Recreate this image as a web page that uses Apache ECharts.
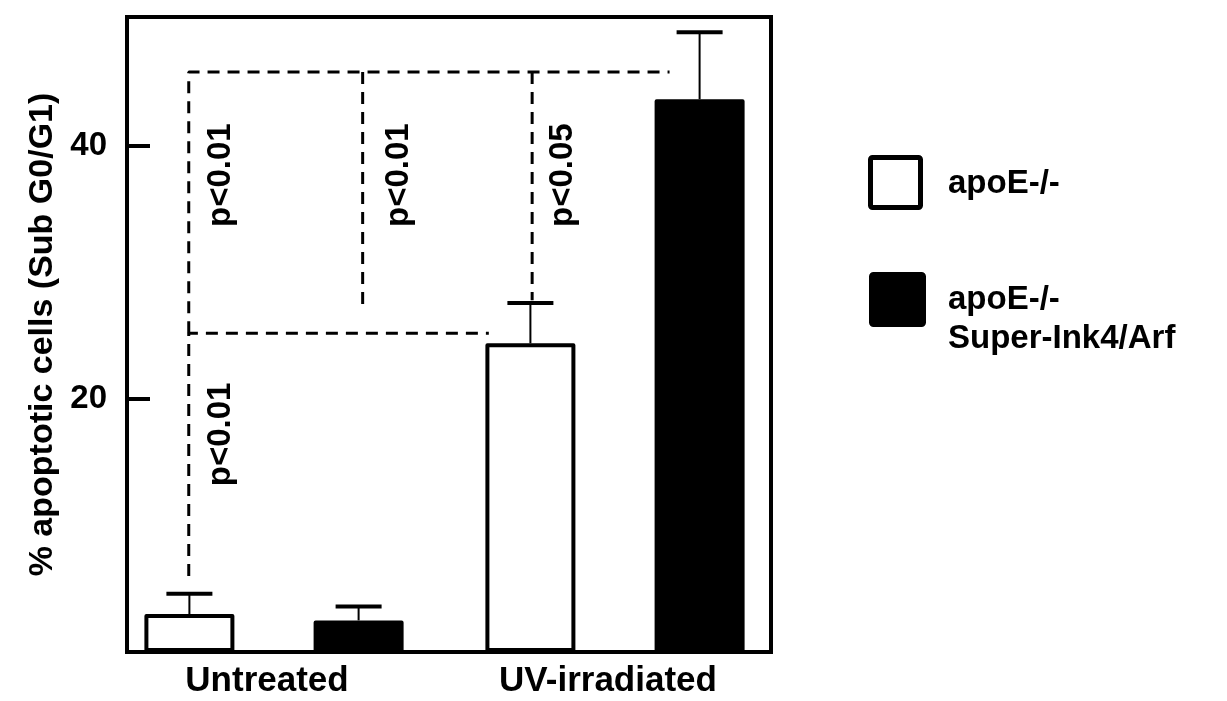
<!DOCTYPE html>
<html>
<head>
<meta charset="utf-8">
<script src="https://cdn.jsdelivr.net/npm/echarts@6/dist/echarts.min.js"></script>
<style>
  html, body { margin: 0; padding: 0; background: #fff; }
  #chart { width: 1227px; height: 701px; }
</style>
</head>
<body>
<div id="chart"></div>
<script>
// ---- data ----
const categories = ['Untreated', 'UV-irradiated'];
const seriesNames = ['apoE-/-', 'apoE-/-\nSuper-Ink4/Arf'];
const apoeMean = [3.0, 24.4];
const apoeSD = [1.6, 3.2];
const superMean = [2.5, 43.7];
const superSD = [1.1, 5.3];
const yTicks = [20, 40];
const yMax = 50.2;

// significance brackets: x in category units (category i centred on i), y in %
const bracketLower = [[-0.25, 6.0], [-0.25, 25.2], [0.63, 25.2]];
const bracketUpper = [[-0.25, 25.2], [-0.25, 45.85], [1.16, 45.85]];
const bracketMid = [[0.26, 45.85], [0.26, 27.4]];
const bracketRight = [[0.757, 45.85], [0.757, 27.8]];
const pLabelText = ['p<0.01', 'p<0.01', 'p<0.05', 'p<0.01'];
const pLabelX = [-0.155, 0.367, 0.848, -0.155];
const pLabelY = [37.7, 37.7, 37.7, 17.2];

// ---- style / layout constants ----
const FONT = "'Liberation Sans', Arial, Helvetica, sans-serif";
const FILLS = ['#fff', '#000'];
const BAR_W = 90;
const BAR_GAP = 0.88;
const BAR_OFFSET = BAR_W * (1 + BAR_GAP) / 2;
const CAP_HALF = 23;

const chart = echarts.init(document.getElementById('chart'), null, { renderer: 'canvas' });

function errorBars(means, sds, sign) {
  return {
    type: 'custom',
    xAxisIndex: 1,
    yAxisIndex: 1,
    z: 1,
    silent: true,
    data: means.map((m, i) => [i, m, m + sds[i]]),
    renderItem(params, api) {
      const i = api.value(0);
      const base = api.coord([i, api.value(1)]);
      const top = api.coord([i, api.value(2)]);
      const x = base[0] + sign * BAR_OFFSET;
      return {
        type: 'group',
        children: [
          { type: 'line', shape: { x1: x, y1: base[1], x2: x, y2: top[1] },
            style: { stroke: '#000', lineWidth: 2 } },
          { type: 'line', shape: { x1: x - CAP_HALF, y1: top[1], x2: x + CAP_HALF, y2: top[1] },
            style: { stroke: '#000', lineWidth: 4 } }
        ]
      };
    }
  };
}

function bracket(points) {
  return {
    type: 'line',
    xAxisIndex: 2,
    yAxisIndex: 1,
    data: points,
    symbol: 'none',
    silent: true,
    z: 3,
    lineStyle: { color: '#000', width: 3, type: [12, 8] }
  };
}

// key boxes and labels at the right of the plot
function keyItems() {
  const font = 'bold 33px ' + FONT;
  return [
    { type: 'rect', shape: { x: 870.5, y: 157.5, width: 50, height: 50, r: 2 },
      style: { fill: FILLS[0], stroke: '#000', lineWidth: 5 } },
    { type: 'text', x: 948, y: 183.5,
      style: { text: seriesNames[0], font: font, fill: '#000', verticalAlign: 'middle' } },
    { type: 'rect', shape: { x: 871.5, y: 274.5, width: 52, height: 50, r: 2 },
      style: { fill: FILLS[1], stroke: '#000', lineWidth: 5 } },
    { type: 'text', x: 948, y: 319,
      style: { text: seriesNames[1], font: font, lineHeight: 39, fill: '#000', verticalAlign: 'middle' } }
  ];
}

const option = {
  animation: false,
  backgroundColor: '#fff',
  grid: [
    // frame + y axis
    { left: 127, right: 456, top: 17, bottom: 49, show: true,
      borderColor: '#000', borderWidth: 4, backgroundColor: 'transparent' },
    // bar layout grid
    { left: 103.5, right: 441.5, top: 17, bottom: 49 }
  ],
  xAxis: [
    { gridIndex: 0, type: 'value', min: 0, max: 1,
      axisLine: { show: true, lineStyle: { color: '#000', width: 4 } },
      axisTick: { show: false }, axisLabel: { show: false }, splitLine: { show: false } },
    { gridIndex: 1, type: 'category', data: categories,
      axisLine: { show: false }, axisTick: { show: false }, splitLine: { show: false },
      axisLabel: { color: '#000', fontFamily: FONT, fontWeight: 'bold', fontSize: 35, margin: 12,
                   padding: [0, 14, 0, 0] } },
    { gridIndex: 1, type: 'value', min: -0.5, max: 1.5, show: false }
  ],
  yAxis: [
    { gridIndex: 0, type: 'value', min: 0, max: yMax,
      axisLine: { show: true, lineStyle: { color: '#000', width: 4 } },
      axisTick: { show: true, inside: true, length: 23, customValues: yTicks,
                  lineStyle: { color: '#000', width: 4 } },
      axisLabel: { customValues: yTicks, color: '#000', fontFamily: FONT, fontWeight: 'bold',
                   fontSize: 33, margin: 20 },
      splitLine: { show: false },
      name: '% apoptotic cells (Sub G0/G1)',
      nameLocation: 'middle',
      nameGap: 66,
      nameTextStyle: { color: '#000', fontFamily: FONT, fontWeight: 'bold', fontSize: 34 } },
    { gridIndex: 1, type: 'value', min: 0, max: yMax, show: false }
  ],
  graphic: keyItems(),
  series: [
    errorBars(apoeMean, apoeSD, -1),
    errorBars(superMean, superSD, 1),
    {
      name: seriesNames[0], type: 'bar', xAxisIndex: 1, yAxisIndex: 1,
      data: apoeMean, barWidth: BAR_W, z: 2,
      itemStyle: { color: FILLS[0], borderColor: '#000', borderWidth: 4, borderJoin: 'round' }
    },
    {
      name: seriesNames[1], type: 'bar', xAxisIndex: 1, yAxisIndex: 1,
      data: superMean, barWidth: BAR_W, barGap: (BAR_GAP * 100) + '%', z: 2,
      itemStyle: { color: FILLS[1], borderColor: '#000', borderWidth: 4, borderJoin: 'round' }
    },
    bracket(bracketLower),
    bracket(bracketUpper),
    bracket(bracketMid),
    bracket(bracketRight),
    {
      // rotated significance labels
      type: 'custom', xAxisIndex: 2, yAxisIndex: 1, silent: true, z: 4,
      data: pLabelText.map((t, i) => [pLabelX[i], pLabelY[i], i]),
      renderItem(params, api) {
        const p = api.coord([api.value(0), api.value(1)]);
        return {
          type: 'text',
          x: p[0], y: p[1],
          rotation: Math.PI / 2,
          style: {
            text: pLabelText[api.value(2)],
            fill: '#000',
            font: 'bold 33px ' + FONT,
            align: 'center',
            verticalAlign: 'middle'
          }
        };
      }
    }
  ]
};

chart.setOption(option);
</script>
</body>
</html>
